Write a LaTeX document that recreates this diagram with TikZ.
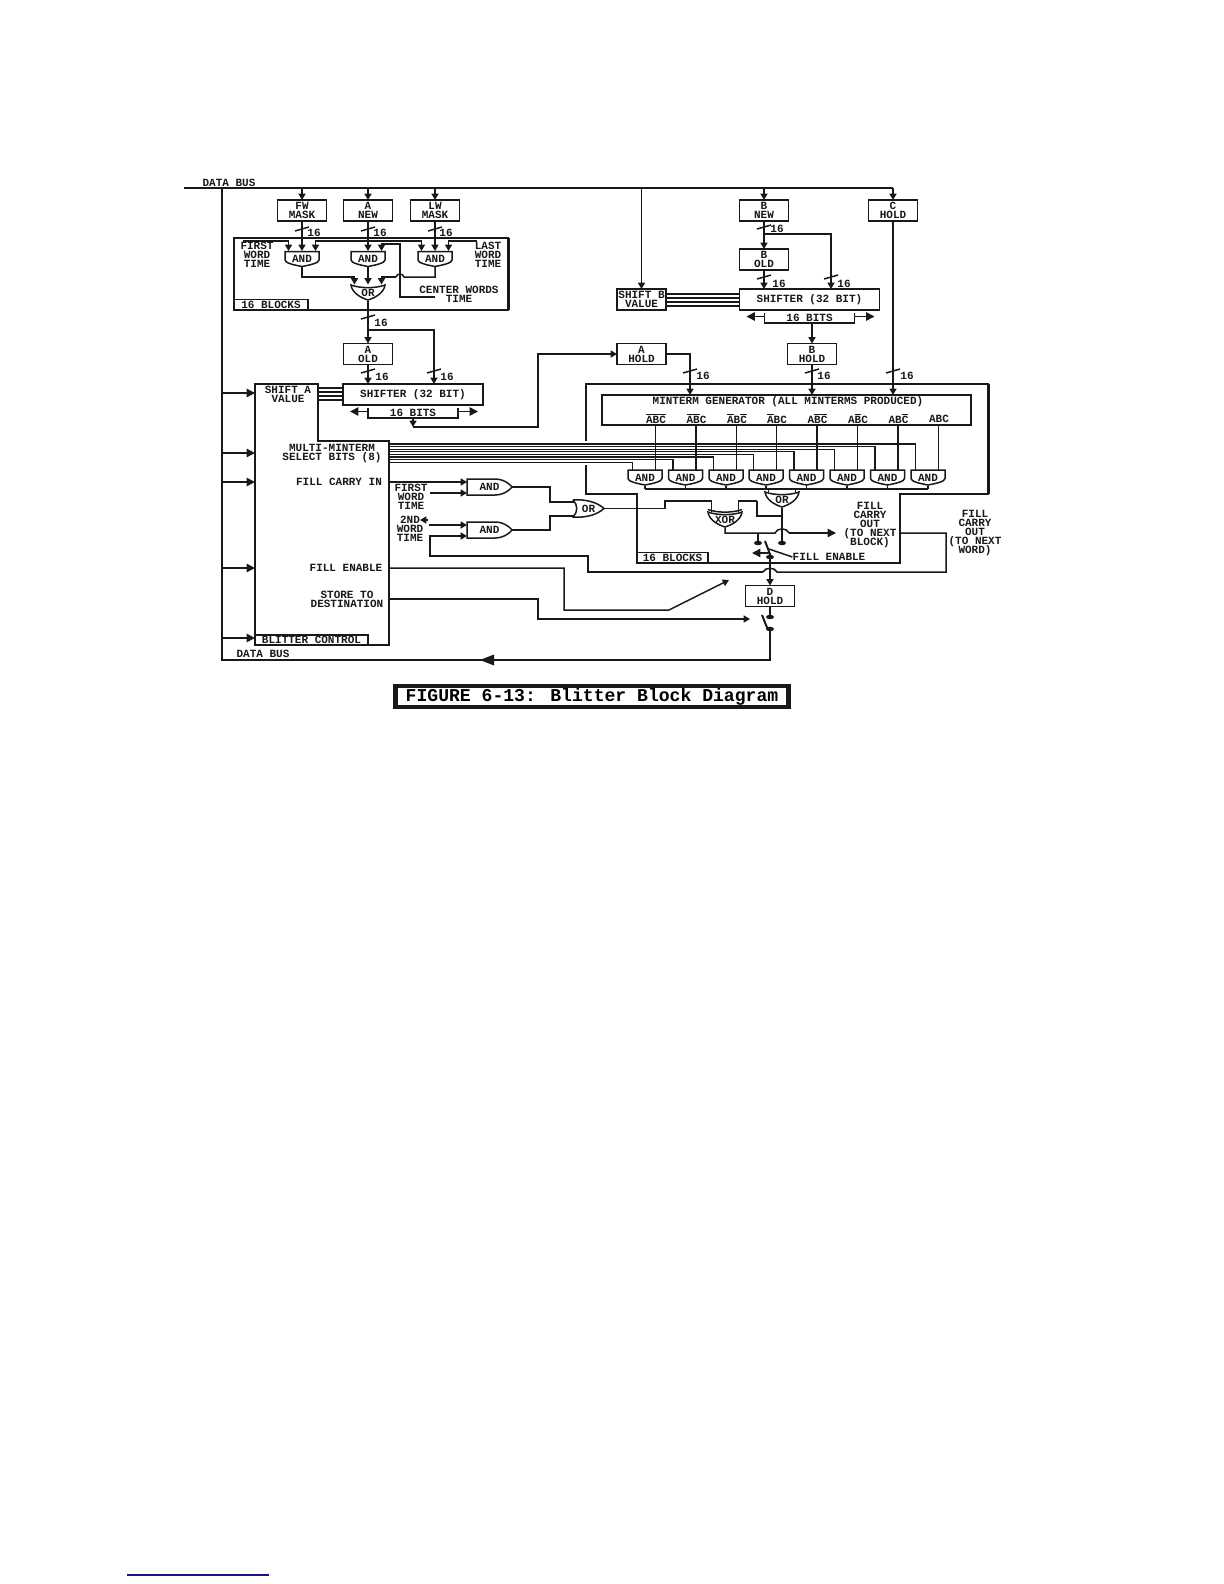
\documentclass[tikz,border=0pt]{standalone}
\usepackage{fontspec}
\setmonofont{Liberation Mono}
\newfontfamily\capfont{Liberation Mono}
\usetikzlibrary{arrows.meta, positioning, calc}
\definecolor{inkblack}{RGB}{25,25,25}
\definecolor{rulenavy}{RGB}{20,20,130}
\newcommand{\dfont}{\fontsize{6.6}{5.4}\selectfont\ttfamily\bfseries\lineskiplimit=-20pt\relax}
\newcommand{\ov}[1]{$\overline{\hbox{#1}}$}
\tikzset{
  wire/.style={line width=0.9pt, color=inkblack},
  arrow/.style={wire, -{Triangle[length=3.8pt,width=4.2pt]}},
  biarrow/.style={wire, {Triangle[length=3.8pt,width=4.2pt]}-{Triangle[length=3.8pt,width=4.2pt]}},
  bigarrow/.style={wire, -{Triangle[length=5pt,width=5pt]}},
  frame/.style={wire, line width=1.2pt},
  label/.style={font=\dfont, align=center, inner sep=0pt, text=inkblack},
  reg/.style={rectangle, draw=inkblack, line width=0.9pt, minimum width=29.4pt,
    minimum height=12.6pt, inner sep=0pt, outer sep=0pt, font=\dfont, align=center, text=inkblack},
  shifterbox/.style={reg, minimum width=84pt},
  tabbox/.style={reg, line width=1pt, minimum height=6.4pt},
  gatetext/.style={label, minimum width=20.4pt, minimum height=9.6pt, outer sep=0pt},
  hgatetext/.style={label, minimum height=9.6pt, outer sep=0pt}
}
% gates: name, x, y, text
\newcommand{\andgate}[4]{%
  \draw[wire, shift={(#2,#3)}] (-17,-7.5) -- (17,-7.5) -- (17,1)
    .. controls (17,4) and (8,6) .. (0,7.5) .. controls (-8,6) and (-17,4) .. (-17,1) -- cycle;
  \node[gatetext] (#1) at (#2,#3) {#4};
  \coordinate (#1l) at ($(#1.north)+(-12.5,0)$);
  \coordinate (#1r) at ($(#1.north)+(10.5,0)$);}
\newcommand{\orgate}[4]{%
  \draw[wire, shift={(#2,#3)}] (-17,-7.5) .. controls (-8,-4) and (8,-4) .. (17,-7.5)
    .. controls (16,0) and (8,5) .. (0,7.5) .. controls (-8,5) and (-16,0) .. (-17,-7.5) -- cycle;
  \node[gatetext] (#1) at (#2,#3) {#4};
  \coordinate (#1l) at ($(#1.north)+(-13.5,0)$);
  \coordinate (#1r) at ($(#1.north)+(13.5,0)$);}
\begin{document}
\begin{tikzpicture}[x=0.6pt, y=-0.6pt]
  \useasboundingbox (0,0) rectangle (1224,1584);
  \fill[white] (0,0) rectangle (1224,1584);

  % Data bus
  \coordinate (busl) at (184,188);
  \coordinate (busr) at (893,188);
  \coordinate (busb) at (222,660);
  \draw[wire] (busl) -- (busr);
  \node[label] (buslabtop) at (229,183) {DATA BUS};
  \node[label] (buslabbot) at (263,654) {DATA BUS};

  % Source registers
  \node[reg] (fwmask) at (302,210.5) {FW\\MASK};
  \node[reg] (anew) at (368,210.5) {A\\NEW};
  \node[reg] (lwmask) at (435,210.5) {LW\\MASK};
  \node[reg] (bnew) at (764,210.5) {B\\NEW};
  \node[reg] (chold) at (893,210.5) {C\\HOLD};
  \node[reg] (bold) at (764,259.5) {B\\OLD};
  \node[reg] (sbval) at (641.5,299.5) {SHIFT B\\VALUE};
  \node[reg] (aold) at (368,354) {A\\OLD};
  \node[reg] (ahold) at (641.5,354) {A\\HOLD};
  \node[reg] (bhold) at (812,354) {B\\HOLD};
  \node[reg] (dhold) at (770,596) {D\\HOLD};
  \node[shifterbox] (shifta) at (413,394.5) {SHIFTER (32 BIT)};
  \node[shifterbox] (shiftb) at (809.5,299.5) {SHIFTER (32 BIT)};
  \foreach \nm in {fwmask,anew,lwmask,bnew,chold}
    \draw[arrow] (\nm.north |- busl) -- (\nm.north);
  \draw[arrow] (sbval.north |- busl) -- (sbval.north);

  % First and last word mask block
  \node[reg, line width=1.2pt, minimum width=164.4pt, minimum height=43.2pt] (blocka) at (371,274) {};
  \draw[wire, line width=1.8pt] (blocka.north east) -- (blocka.south east);
  \node[tabbox, minimum width=44.4pt, anchor=south west] (tabblocka) at (blocka.south west) {16 BLOCKS};
  \andgate{ga1}{302}{259}{AND}
  \andgate{ga2}{368}{259}{AND}
  \andgate{ga3}{435}{259}{AND}
  \orgate{ora}{368}{292.5}{OR}
  \node[label] (fwtime) at (257,255) {FIRST\\WORD\\TIME};
  \node[label] (lwtime) at (488,255) {LAST\\WORD\\TIME};
  \node[label] (cwtime) at (459,294) {CENTER WORDS\\TIME};
  \foreach \nm/\g in {fwmask/ga1,anew/ga2,lwmask/ga3}
    \draw[arrow] (\nm.south) -- (\g.north);
  \coordinate (fwt) at (243,241);
  \coordinate (lwt) at (477,241);
  \coordinate (twm) at (368,241);
  \coordinate (ctw) at (435,297);
  \coordinate (ctj) at (400,244);
  \coordinate (aj1) at (340,277);
  \coordinate (aj3a) at (404,277);
  \coordinate (aj3b) at (396,277);
  \draw[arrow] (fwt) -| ($(ga1.north)+(-13.5,0)$);
  \draw[arrow] (lwt) -| ($(ga3.north)+(13.5,0)$);
  \draw[biarrow] ($(ga1.north)+(13.5,0)$) |- (twm) -| ($(ga3.north)+(-13.5,0)$);
  \draw[arrow] (ctw) -| (ctj) -| ($(ga2.north)+(13.5,0)$);
  \draw[arrow] (ga1.south) |- (aj1) -| (oral);
  \draw[arrow] (ga2.south) -- (ora.north);
  \draw[wire] (ga3.south) |- (aj3a) .. controls (403,273) and (397,273) .. (aj3b);
  \draw[arrow] (aj3b) -| (orar);

  % A channel
  \coordinate (abr) at (368,330);
  \coordinate (sai) at (434,384);
  \draw[arrow] (ora.south) -- (aold.north);
  \draw[arrow] (abr) -| (sai);
  \draw[arrow] (aold.south) -- (aold.south |- shifta.north);

  % B channel
  \coordinate (bbr) at (764,234);
  \coordinate (sbi) at (831,289);
  \draw[arrow] (bnew.south) -- (bold.north);
  \draw[arrow] (bbr) -| (sbi);
  \draw[arrow] (bold.south) -- (bold.south |- shiftb.north);

  % Bit spans under the shifters
  \foreach \nm/\x/\y in {sa/413/408, sb/809.5/313} {
    \node[label] (\nm bits) at (\x,\y+5) {16 BITS};
    \coordinate (\nm lt) at (\x-45,\y);
    \coordinate (\nm rt) at (\x+45,\y);
    \coordinate (\nm b) at (\x,\y+10);
    \draw[wire] (\nm lt) |- (\nm b) -| (\nm rt);
    \draw[bigarrow] ($(\nm lt)+(0,3.5)$) -- ($(\nm lt)+(-18,3.5)$);
    \draw[bigarrow] ($(\nm rt)+(0,3.5)$) -- ($(\nm rt)+(20,3.5)$);
  }
  \coordinate (saj) at (413,427);
  \coordinate (ahj) at (538,354);
  \draw[arrow] (sab) -- (saj);
  \draw[arrow] (saj) -| (ahj) -- (ahold.west);
  \draw[arrow] (bhold.north |- sbb) -- (bhold.north);

  % Shift value lines
  \foreach \y in {388,392,396,400} {
    \coordinate (sav\y) at (318,\y);
    \draw[wire] (sav\y) -- (sav\y -| shifta.west);
  }
  \foreach \y in {294,298,302,306} {
    \coordinate (sbv\y) at (666,\y);
    \draw[wire] (sbv\y) -- (sbv\y -| shiftb.west);
  }

  % Bus width marks
  \foreach \nm/\x/\y/\lx/\ly in {w1/302/229/314/233, w2/368/229/380/233, w3/435/229/446/233,
    w4/368/317/381/323, w5/368/371/382/377, w6/434/371/447/377, w7/764/227/777/229,
    w8/764/277/779/284, w9/831/277/844/284, w10/690/371/703/376, w11/812/371/824/376,
    w12/893/371/907/376} {
    \draw[wire] (\x-7,\y+2) -- (\x+7,\y-2);
    \node[label] (\nm) at (\lx,\ly) {16};
  }

  % Minterm generator
  \node[reg, minimum width=221.4pt, minimum height=18pt] (mintgen) at (786.5,410) {};
  \node[label] (mintitle) at (788,402) {MINTERM GENERATOR (ALL MINTERMS PRODUCED)};
  \coordinate (ahin) at (690,395);
  \draw[arrow] (ahold.east) -| (ahin);
  \draw[arrow] (bhold.south) -- (bhold.south |- mintgen.north);
  \draw[arrow] (chold.south) -- (chold.south |- mintgen.north);
  \draw[frame] (586,465) -- (586,494) -- (637,494) -- (637,563) -- (900,563) -- (900,494)
    -- (988,494) -- (988,384) -- (586,384) -- (586,441);
  \draw[wire, line width=1.8pt] (988,494) -- (988,384);
  \node[tabbox, minimum width=42.6pt, anchor=south west] (tabblockb) at (637,563) {16 BLOCKS};
  \coordinate (mbus) at (645,489);
  \foreach \i/\x/\term in {1/645/\ov{ABC}, 2/685.5/\ov{AB}C, 3/726/\ov{A}B\ov{C}, 4/766/\ov{A}BC,
    5/806.5/A\ov{BC}, 6/847/A\ov{B}C, 7/887.5/AB\ov{C}, 8/928/ABC} {
    \andgate{m\i}{\x}{477.5}{AND}
    \node[label] (t\i) at (\x+11,418.5) {\term};
    \draw[wire] (m\i r |- mintgen.south) -- (m\i r);
    \draw[wire] (m\i.south) -- (m\i.south |- mbus);
  }
  \foreach \i/\y in {8/444,7/446.6,6/449.2,5/451.8,4/454.4,3/457,2/459.6,1/462.2} {
    \coordinate (sel\i) at (389,\y);
    \draw[wire, line width=0.7pt] (sel\i) -| (m\i l);
  }
  \draw[wire] (m1.south |- mbus) -- (m8.south |- mbus);

  % Fill logic
  \orgate{orm}{782}{499.5}{OR}
  \orgate{xorg}{725}{519.5}{XOR}
  \draw[wire, shift={(725,519.5)}] (-17,-10) .. controls (-8,-6.5) and (8,-6.5) .. (17,-10);
  \draw[wire] (orml |- mbus) -- (orml);
  \draw[wire] (ormr |- mbus) -- (ormr);
  \coordinate (padl) at (758,543);
  \coordinate (padr) at (782,543);
  \coordinate (padb) at (770,557);
  \coordinate (orj) at (782,516);
  \coordinate (xja) at (665,501);
  \coordinate (xjb) at (757,501);
  \coordinate (xorb) at (725,533);
  \coordinate (hopa) at (775,533);
  \coordinate (hopb) at (789,533);
  \coordinate (fco) at (836,533);
  \draw[wire] (orm.south) -- (padr);
  \draw[wire] (orj) -| (xjb);
  \draw[wire] (xorg.south) -- (xorb) -- (hopa) .. controls (777,527.5) and (787,527.5) .. (hopb);
  \draw[bigarrow] (hopb) -- (fco);
  \draw[wire] (padl |- xorb) -- (padl);
  \node[label] (fcoblock) at (870,525) {FILL\\CARRY\\OUT\\(TO NEXT\\BLOCK)};
  \node[label] (fcoword) at (975,533) {FILL\\CARRY\\OUT\\(TO NEXT\\WORD)};
  \node[label] (fillen) at (829,557) {FILL ENABLE};
  \foreach \c in {padl,padr,padb}
    \fill[inkblack] (\c) ellipse (4 and 2.2);
  \draw[wire, line width=1.2pt] (765,541) -- (771,557);
  \coordinate (fesw) at (769,549);
  \coordinate (fetip) at (752,553);
  \draw[wire] (fillen.west) -- (fesw);
  \draw[bigarrow] (769,553) -- (fetip);
  \draw[arrow] (padb) -- (dhold.north);

  % Store switch
  \coordinate (dpadt) at (770,617);
  \coordinate (dpadb) at (770,629);
  \draw[wire] (dhold.south) -- (dpadt);
  \foreach \c in {dpadt,dpadb}
    \fill[inkblack] (\c) ellipse (4 and 2.2);
  \draw[wire, line width=1.2pt] (762,615) -- (768,630);
  \draw[wire] (dpadb) |- (busb) |- (busl);
  \fill[inkblack] (494,654.5) -- (480,660) -- (494,665.5) -- cycle;

  % Blitter control
  \draw[frame] (255,384) -- (318,384) -- (318,441) -- (389,441) -- (389,645) -- (255,645) -- cycle;
  \node[tabbox, minimum width=67.8pt, minimum height=6pt, anchor=south west] (tabblit) at (255,645) {BLITTER CONTROL};
  \node[label] (shavalue) at (288,394) {SHIFT A\\VALUE};
  \node[label] (selbits) at (332,453.5) {MULTI-MINTERM\\SELECT BITS (8)};
  \node[label] (fcin) at (339,482) {FILL CARRY IN};
  \node[label] (fen) at (346,568) {FILL ENABLE};
  \node[label] (store) at (347,599.5) {STORE TO\\DESTINATION};
  \foreach \i/\y in {1/393,2/453,3/482,4/568,5/638} {
    \coordinate (bi\i) at (255,\y);
    \draw[bigarrow] (bi\i -| busb) -- (bi\i);
  }

  % Fill carry in gates
  \node[gatetext, minimum width=27pt] (and1) at (489.5,487) {AND};
  \node[gatetext, minimum width=27pt] (and2) at (489.5,530) {AND};
  \node[hgatetext, minimum width=18.6pt] (orf) at (588.5,508.5) {OR};
  \foreach \g in {and1,and2}
    \draw[wire] (\g.north west) -- ($(\g.north west)+(28,0)$)
      .. controls ($(\g.north east)+(-6,0)$) and (\g.east) .. (\g.east)
      .. controls (\g.east) and ($(\g.south east)+(-6,0)$) .. ($(\g.south west)+(28,0)$)
      -- (\g.south west) -- cycle;
  \draw[wire] (573,500) .. controls (585,499) and (597,502) .. (604,508.5)
    .. controls (597,515) and (585,518) .. (573,517)
    .. controls (578,512) and (578,505) .. (573,500);
  \node[label] (fwlab) at (411,496.5) {FIRST\\WORD\\TIME};
  \node[label] (swlab) at (410,529) {2ND\\WORD\\TIME};
  \coordinate (fcinr) at (389,482);
  \coordinate (a1t) at (467,482);
  \coordinate (a1bs) at (430,493);
  \coordinate (a1b) at (467,493);
  \coordinate (a2ts) at (429,525);
  \coordinate (a2t) at (467,525);
  \coordinate (a2b) at (467,536);
  \coordinate (orj1) at (550,502);
  \coordinate (orj2) at (550,516);
  \coordinate (orin1) at (575,502);
  \coordinate (orin2) at (575,516);
  \coordinate (swt) at (428,520);
  \coordinate (swh) at (420,520);
  \draw[arrow] (fcinr) -- (a1t);
  \draw[arrow] (a1bs) -- (a1b);
  \draw[arrow] (a2ts) -- (a2t);
  \draw[arrow] (swt) -- (swh);
  \draw[wire] (and1.east) -| (orj1) -- (orin1);
  \draw[wire] (and2.east) -| (orj2) -- (orin2);
  \coordinate (orxa) at (665,508.5);
  \draw[wire] (orf.east) -- (orxa) -- (xja) -| (xorgl);
  \draw[wire] (xjb) -| (xorgr);

  % Fill carry out to next word, fill enable and store lines
  \draw[wire] (900,533) -- (946,533) -- (946,572) -- (777,572) .. controls (775,567) and (765,567) .. (763,572);
  \draw[arrow] (763,572) -- (588,572) -- (588,556) -- (430,556) |- (a2b);
  \coordinate (fes) at (389,568);
  \coordinate (fea) at (564,610);
  \coordinate (feb) at (669,610);
  \coordinate (fec) at (729,580);
  \draw[arrow] (fes) -| (fea) -- (feb) -- (fec);
  \coordinate (sts) at (389,599);
  \coordinate (sta) at (538,619);
  \coordinate (stb) at (750,619);
  \draw[arrow] (sts) -| (sta) -- (stb);

  % Caption
  \node[rectangle, draw=inkblack, line width=2.5pt, fill=white, minimum width=235.8pt, minimum height=12.3pt,
    inner sep=0pt, outer sep=0pt, font=\capfont\bfseries\fontsize{10.85}{12}\selectfont] (caption) at (592,696.5) {FIGURE 6-13: Blitter Block Diagram};
  \coordinate (rulel) at (127,1575);
  \coordinate (ruler) at (269,1575);
  \draw[rulenavy, line width=1.2pt] (rulel) -- (ruler);
\end{tikzpicture}
\end{document}
